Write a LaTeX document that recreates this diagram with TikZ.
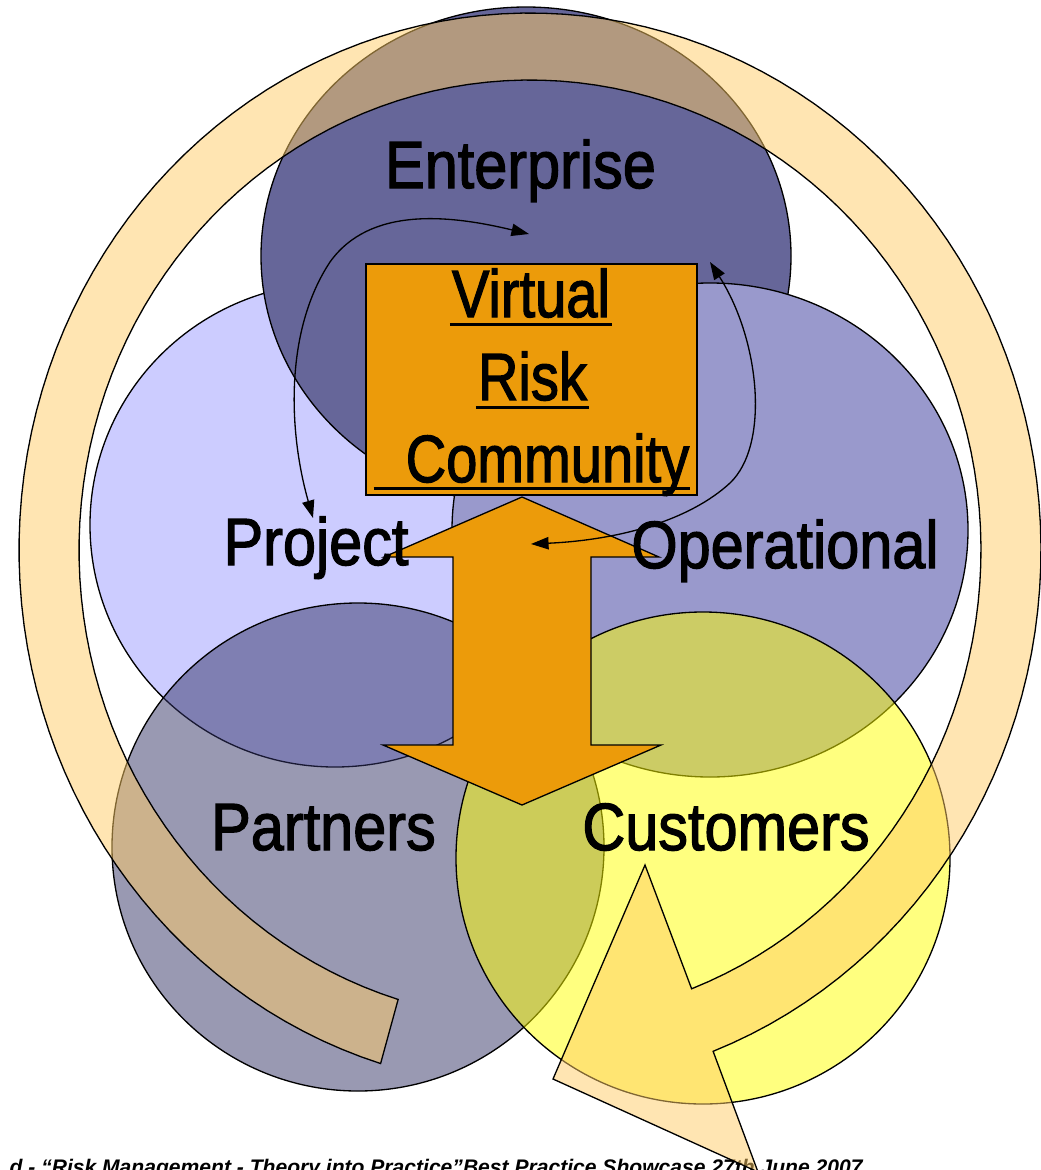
\documentclass[tikz,border=0pt]{standalone}
\usepackage{fontspec}
\setmainfont{Liberation Sans}
\newfontfamily\lblfont{Liberation Sans}[FakeBold=2]
\usetikzlibrary{arrows.meta}
\definecolor{entc}{HTML}{666699}
\definecolor{projc}{HTML}{CCCCFF}
\definecolor{opc}{HTML}{9999CC}
\definecolor{partc}{HTML}{333366}
\definecolor{custc}{HTML}{FFFF00}
\definecolor{ringc}{HTML}{FFCC66}
\definecolor{vrcc}{RGB}{236,155,10}
\newcommand{\nar}[2][0.89]{\scalebox{#1}[1]{#2}}
\begin{document}
\begin{tikzpicture}[x=0.02cm,y=-0.02cm,
  outl/.style={draw=black,line width=0.75pt},
  lbl/.style={font=\lblfont\fontsize{38}{40}\selectfont, inner sep=0pt, anchor=base},
  uline/.style={line width=1.7pt},
  curv/.style={line width=0.75pt,{Triangle[length=10pt,width=7pt]}-{Triangle[length=10pt,width=7pt]}},
  ring/.style={outl, fill=ringc, fill opacity=0.5, draw opacity=1}]
\useasboundingbox (0,0) rectangle (1041,1170);
\clip (0,0) rectangle (1041,1170);
% circles
\draw[outl, fill=projc] (335,525) ellipse [x radius=245, y radius=242];
\draw[outl, fill=entc] (526,256) ellipse [x radius=265, y radius=249];
\draw[outl, fill=opc] (710,530) ellipse [x radius=258, y radius=247];
\draw[outl, fill=partc, fill opacity=0.5, draw opacity=1] (358,847) ellipse [x radius=246, y radius=244];
\draw[outl, fill=custc, fill opacity=0.5, draw opacity=1] (703,858) ellipse [x radius=247, y radius=246];
% footer
\node[anchor=base east, inner sep=0pt, font=\fontsize{12}{13}\selectfont\bfseries\itshape] (foot) at (863,1174) {d - “Risk Management - Theory into Practice”Best Practice Showcase 27th June 2007};
% ring arrow
\path[ring] plot[domain=107:429, samples=140] ({530+511*cos(\x)},{550+537*sin(\x)})
   -- (758,1172) -- (553,1079) -- (645,865)
   -- plot[domain=429:107, samples=140] ({530+451*cos(\x)},{550+470*sin(\x)}) -- cycle;
% box
\node[outl, fill=vrcc, minimum width=6.62cm, minimum height=4.62cm, inner sep=0pt] (vrc) at (531.5,379.5) {};
% double arrow
\draw[outl, fill=vrcc, line join=miter] (522,497) -- (659,557) -- (591,557) -- (591,745) -- (661,745) -- (522,805)
   -- (383,745) -- (453,745) -- (453,557) -- (384,557) -- cycle;
% curved arrows
\coordinate (la1) at (313,518);
\coordinate (lam) at (330,262);
\coordinate (la2) at (529,234);
\draw[curv] (la1) .. controls (288,430) and (285,330) .. (lam) .. controls (370,206) and (450,215) .. (la2);
\coordinate (ra1) at (531,544);
\coordinate (ram) at (730,483);
\coordinate (ra2) at (710,262);
\draw[curv] (ra1) .. controls (620,540) and (690,520) .. (ram) .. controls (770,445) and (760,340) .. (ra2);
% box text
\node[lbl] (v1) at (531,317) {\nar[0.84]{Virtual}};
\node[lbl] (v2) at (532.5,400) {\nar[0.84]{Risk}};
\node[lbl] (v3) at (547.5,482) {\nar[0.84]{Community}};
\draw[uline] ([xshift=-1pt,yshift=-4.5pt]v1.base west) -- ([xshift=1pt,yshift=-4.5pt]v1.base east);
\draw[uline] ([xshift=-1pt,yshift=-4.5pt]v2.base west) -- ([xshift=1pt,yshift=-4.5pt]v2.base east);
\draw[uline] ([xshift=-18pt,yshift=-3.5pt]v3.base west) -- ([xshift=0pt,yshift=-3.5pt]v3.base east);
% labels
\node[lbl] (ent) at (520.5,188) {\nar{Enterprise}};
\node[lbl] (proj) at (316,565) {\nar{Project}};
\node[lbl] (oper) at (785,568) {\nar{Operational}};
\node[lbl] (part) at (323.5,850) {\nar{Partners}};
\node[lbl] (cust) at (726,850) {\nar{Customers}};
\end{tikzpicture}
\end{document}
